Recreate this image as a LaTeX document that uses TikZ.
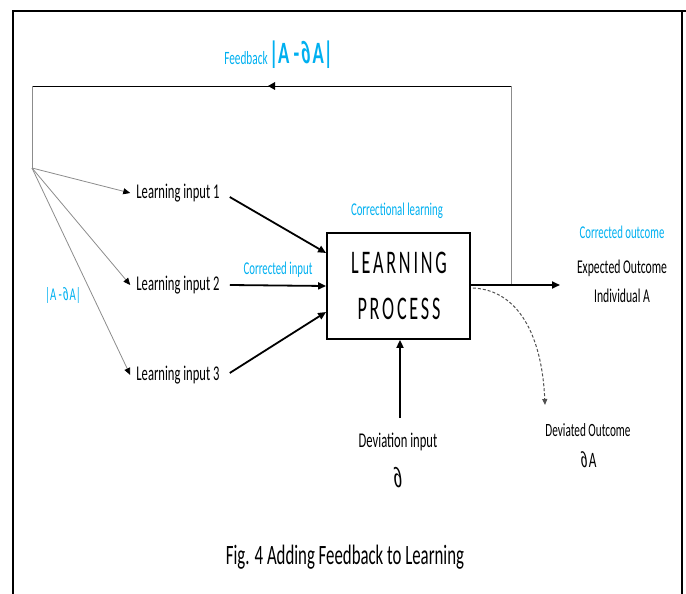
\documentclass[tikz,border=0pt]{standalone}
\usepackage{fontspec}
\setmainfont{Carlito}
\newfontfamily\narrow[FakeStretch=0.6]{Carlito}
\newfontfamily\delfont[FakeStretch=0.62,FakeSlant=-0.22]{Liberation Sans}
\newfontfamily\boxfont[FakeStretch=0.55,LetterSpace=8.5]{Carlito}
\usetikzlibrary{arrows.meta,calc}
\definecolor{labelblue}{RGB}{0,176,240}
\definecolor{linegray}{RGB}{140,140,140}
\definecolor{dashgray}{RGB}{80,80,80}
% upright partial sign, at the size in force
\newcommand{\pdel}{{\kern0.12em\delfont ∂}}
\tikzset{
  txt/.style={font=\narrow\fontsize{21}{24}\selectfont, inner sep=0pt},
  bluetxt/.style={font=\narrow\fontsize{18}{20}\selectfont, text=labelblue, inner sep=0pt},
  mainarrow/.style={line width=1.8pt, -{Triangle[length=8pt,width=7pt]}},
  fanarrow/.style={draw=linegray, line width=0.8pt, -{Triangle[length=7pt,width=6pt,color=black]}},
  loopline/.style={line width=0.8pt},
  procbox/.style={draw, line width=1.8pt, minimum width=143pt, minimum height=106pt, inner sep=0pt}
}
\begin{document}
\begin{tikzpicture}[x=1pt,y=-1pt]
\useasboundingbox (0,0) rectangle (686,594);
% outer frame (open at the bottom)
\draw[line width=1.2pt] (13,594) -- (13,11) -- (682,11) -- (682,594);
\draw[line width=2.2pt] (12,11) -- (686,11);

% process block
\node[procbox] (lp) at (398.5,286) {};
\node[font=\boxfont\fontsize{33}{36}\selectfont, inner sep=0pt] (l1) at (399,263) {LEARNING};
\node[font=\boxfont\fontsize{33}{36}\selectfont, inner sep=0pt] (l2) at (399,309) {PROCESS};
\node[bluetxt] (corrl) at (397,211) {Correctional learning};

% inputs
\node[txt] (in1) at (178,193) {Learning input 1};
\node[txt] (in2) at (178,285) {Learning input 2};
\node[txt] (in3) at (178,375) {Learning input 3};
\node[bluetxt] (corri) at (278,270) {Corrected input};
\node[bluetxt] (diffl) at (63,295) {|A -\pdel A|};

% feedback branch point and loop corners
\coordinate (split) at (32,168);
\coordinate (tl) at (32,86);
\coordinate (tr) at (511,86);
\coordinate (tap) at (511,285);

% outputs
\node[bluetxt] (corro) at (622,232) {Corrected outcome};
\node[txt, font=\narrow\fontsize{19.5}{22}\selectfont] (exp1) at (622,268) {Expected Outcome};
\node[txt, font=\narrow\fontsize{19.5}{22}\selectfont] (exp2) at (622,296) {Individual A};
\coordinate (outend) at (560,285);

\node[txt, font=\narrow\fontsize{18.7}{22}\selectfont] (dev1) at (588,430) {Deviated Outcome};
\node[txt, font=\narrow\fontsize{22}{22}\selectfont] (dev2) at (588,460) {\pdel A};
\coordinate (devend) at (545,405);

\node[txt] (dvi1) at (398,442) {Deviation input};
\node[txt, font=\narrow\fontsize{28}{30}\selectfont] (dvi2) at (398,478) {\pdel};
\coordinate (dvistart) at (400,418);

% feedback label
\node[bluetxt, font=\narrow\fontsize{18.8}{20}\selectfont] (fbl) at (246,58) {Feedback};
\node[bluetxt, font=\narrow\bfseries\fontsize{31}{32}\selectfont] (fbv) at (301,55) {|A -{\bfseries\pdel}A|};

% caption
\node[txt, font=\narrow\fontsize{28}{30}\selectfont] (cap) at (345,557) {Fig. 4 Adding Feedback to Learning};

% feedback loop
\draw[draw=linegray, line width=0.8pt] (tap) -- (tr);
\draw[loopline] (tr) -- (tl) node[pos=0.5, sloped, inner sep=0pt]
  {\tikz[x=1pt,y=1pt]\fill (-4,0) -- (3,4) -- (3,-4) -- cycle;};
\draw[draw=linegray, line width=0.8pt] (tl) -- (split);

% fan to the inputs
\draw[fanarrow] (split) -- ([xshift=-6pt]in1.west);
\draw[fanarrow] (split) -- ([xshift=-6pt]in2.west);
\draw[fanarrow] (split) -- ([xshift=-6pt]in3.west);

% inputs into the process
\draw[mainarrow] ([xshift=10pt,yshift=-4pt]in1.east) -- ([yshift=33pt]lp.west);
\draw[mainarrow] ([xshift=10pt]in2.east) -- (lp.west);
\draw[mainarrow] ([xshift=10pt,yshift=2pt]in3.east) -- ([yshift=-26pt]lp.west);
\draw[mainarrow] (dvistart) -- (lp.south -| dvistart);

% outputs
\draw[mainarrow] (lp.east |- tap) -- (outend);
\draw[draw=dashgray, line width=1pt, dash pattern=on 3pt off 2pt, -{Triangle[length=6pt,width=5pt]}]
  ([xshift=2pt,yshift=-2pt]lp.east) .. controls (518,290) and (542,335) .. (devend);
\end{tikzpicture}
\end{document}
